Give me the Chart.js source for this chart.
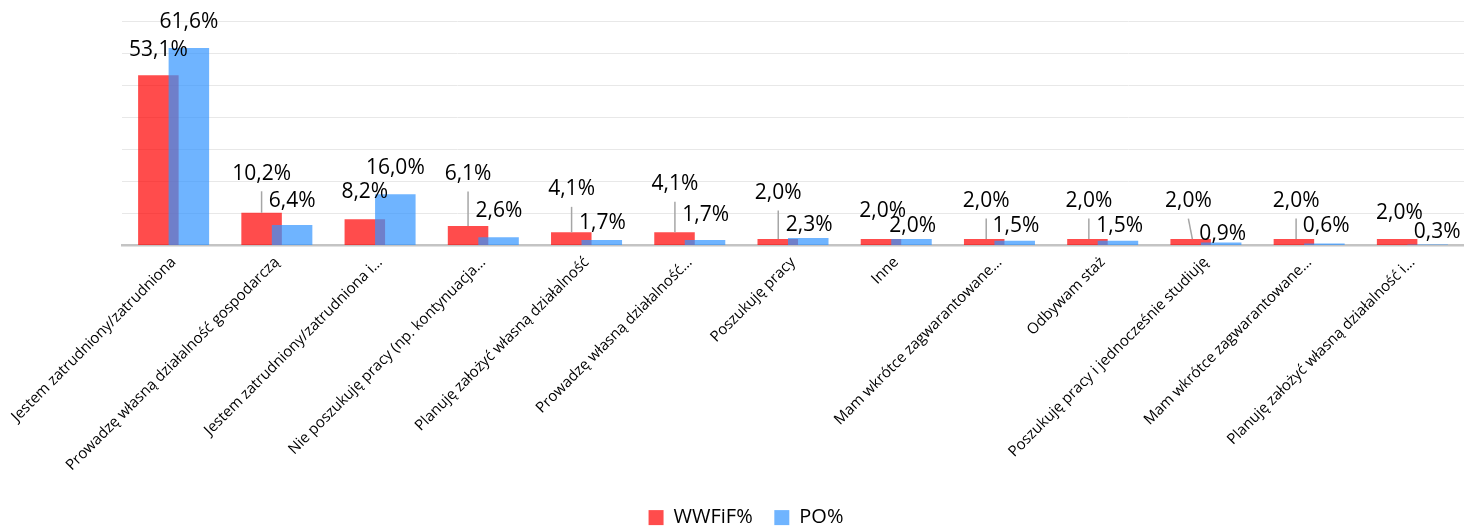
<!DOCTYPE html>
<html><head><meta charset="utf-8">
<script src="https://cdn.jsdelivr.net/npm/chart.js@4.4.1/dist/chart.umd.min.js"></script>
<style>html,body{margin:0;padding:0;background:#fff}#wrap{width:1464px;height:526px;position:relative}</style>
</head><body><div id="wrap"><canvas id="c"></canvas></div>
<script>
const categories = [
  'Jestem zatrudniony/zatrudniona',
  'Prowadzę własną działalność gospodarczą',
  'Jestem zatrudniony/zatrudniona i…',
  'Nie poszukuję pracy (np. kontynuacja…',
  'Planuję założyć własną działalność',
  'Prowadzę własną działalność…',
  'Poszukuję pracy',
  'Inne',
  'Mam wkrótce zagwarantowane…',
  'Odbywam staż',
  'Poszukuję pracy i jednocześnie studiuję',
  'Mam wkrótce zagwarantowane…',
  'Planuję założyć własną działalność i…'
];
const wwfifValues = [53.1, 10.2, 8.2, 6.1, 4.1, 4.1, 2.0, 2.0, 2.0, 2.0, 2.0, 2.0, 2.0];
const poValues    = [61.6, 6.4, 16.0, 2.6, 1.7, 1.7, 2.3, 2.0, 1.5, 1.5, 0.9, 0.6, 0.3];
const seriesNames = ['WWFiF%', 'PO%'];
const yMin = 0, yMax = 70, yStep = 10;

// data-label placement (pixels): lift of label centre above bar top, horizontal shift
const redLabelLift   = [25, 39, 27, 52, 43, 48, 46, 28, 38, 38, 38, 38, 26];
const redLabelShift  = [0, 0, 0, 0, 0.3, 0.4, 0.5, 1.7, 2, 1.4, -2.3, 2.2, 2.3];
const blueLabelLift  = [25.5, 24, 26, 26, 17.5, 25.5, 13.6, 13, 14.7, 14.7, 8.6, 17.6, 12.5];
const blueLabelShift = [0, 0, 0, 0.3, 0.6, 0.7, 1, 1.2, 1.3, 1.8, 1.6, 1.7, 9.5];

const FONT = '"Open Sans", "DejaVu Sans", sans-serif';
const fmt = v => v.toFixed(1).replace('.', ',') + '%';

const drawOrder = {
  id: 'drawOrder',
  beforeDatasetsDraw(chart) {
    chart.getDatasetMeta(0).controller.draw();
    chart.getDatasetMeta(1).controller.draw();
    return false;
  }
};

const valueLabels = {
  id: 'valueLabels',
  afterDraw(chart) {
    const ctx = chart.ctx;
    ctx.save();
    ctx.font = '21px ' + FONT;
    ctx.textAlign = 'center';
    ctx.textBaseline = 'middle';
    const sets = [[wwfifValues, redLabelLift, redLabelShift], [poValues, blueLabelLift, blueLabelShift]];
    sets.forEach((s, di) => {
      const meta = chart.getDatasetMeta(di);
      meta.data.forEach((bar, i) => {
        const lx = bar.x + s[2][i];
        const ly = bar.y - s[1][i];
        if (s[1][i] > 35) {
          let ex = lx;
          if (lx < bar.x - 1) ex = bar.x + 1.7;
          ctx.strokeStyle = '#a6a6a6';
          ctx.lineWidth = 1.5;
          ctx.beginPath();
          ctx.moveTo(lx, ly + 17.5);
          ctx.lineTo(ex, bar.y);
          ctx.stroke();
        }
        ctx.fillStyle = '#000';
        ctx.fillText(fmt(s[0][i]), lx, ly);
      });
    });
    ctx.restore();
  }
};

new Chart(document.getElementById('c'), {
  type: 'bar',
  data: {
    labels: categories,
    datasets: [
      { label: seriesNames[0], data: wwfifValues, backgroundColor: 'rgba(255,0,0,0.7)', borderWidth: 0 },
      { label: seriesNames[1], data: poValues, backgroundColor: 'rgba(50,148,255,0.7)', borderWidth: 0 }
    ]
  },
  options: {
    responsive: true,
    maintainAspectRatio: false,
    animation: false,
    categoryPercentage: 0.591,
    barPercentage: 1.328,
    layout: { padding: { left: 28, right: 0, top: 21, bottom: 0 } },
    plugins: {
      legend: {
        position: 'bottom',
        maxHeight: 40,
        labels: { boxWidth: 15, boxHeight: 15, padding: 21.6, color: '#000', font: { family: FONT, size: 20 } }
      },
      tooltip: { enabled: false }
    },
    scales: {
      x: {
        grid: { display: false, drawTicks: false },
        border: { display: true, color: '#c4c4c4', width: 2.5 },
        ticks: { autoSkip: false, maxRotation: 45, minRotation: 45, color: '#000', padding: 8, font: { family: FONT, size: 15 } },
        afterFit(scale) { scale.height = 240.5; }
      },
      y: {
        min: yMin, max: yMax,
        ticks: { display: false, stepSize: yStep },
        grid: { color: '#e8e8e8', lineWidth: 1, drawTicks: false },
        border: { display: false },
        afterFit(scale) { scale.width = 94; }
      }
    }
  },
  plugins: [drawOrder, valueLabels]
});
</script></body></html>
